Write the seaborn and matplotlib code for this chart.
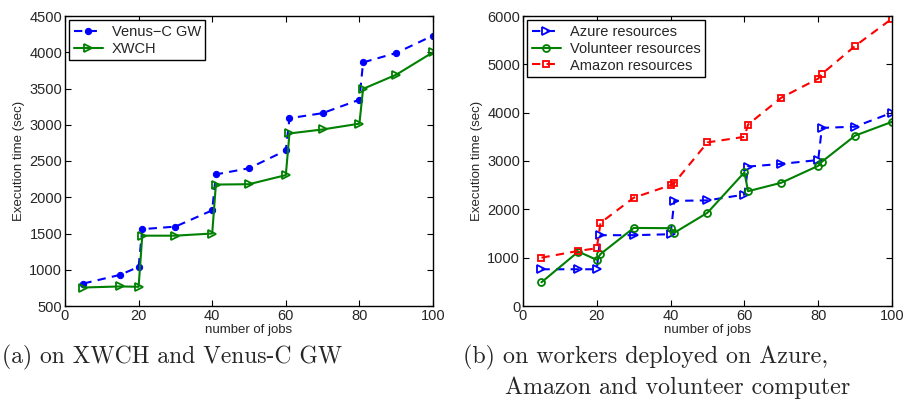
import matplotlib
matplotlib.use("Agg")
import matplotlib.pyplot as plt
import seaborn as sns
import pandas as pd

# (a) XWCH vs Venus-C GW
jobs_a = [5, 15, 20, 21, 30, 40, 41, 50, 60, 61, 70, 80, 81, 90, 100]
venus_gw = [810, 930, 1040, 1560, 1595, 1820, 2315, 2400, 2645, 3090, 3160, 3345, 3860, 3990, 4230]
xwch = [755, 770, 765, 1470, 1470, 1500, 2175, 2180, 2305, 2880, 2935, 3015, 3495, 3690, 4000]

# (b) workers on Azure / volunteer / Amazon
jobs_b = [5, 15, 20, 21, 30, 40, 41, 50, 60, 61, 70, 80, 81, 90, 100]
azure = [760, 760, 760, 1465, 1465, 1485, 2175, 2185, 2305, 2885, 2940, 3020, 3685, 3710, 4000]
volunteer = [490, 1125, 955, 1075, 1615, 1610, 1515, 1930, 2765, 2375, 2550, 2900, 2985, 3525, 3810]
amazon = [1000, 1140, 1195, 1720, 2240, 2500, 2545, 3385, 3500, 3755, 4310, 4705, 4800, 5380, 5945]

caption_a = "(a) on XWCH and Venus-C GW"
caption_b1 = "(b) on workers deployed on Azure,"
caption_b2 = "Amazon and volunteer computer"

sns.set_style("ticks")
plt.rcParams["font.family"] = ["Liberation Sans", "DejaVu Sans"]
plt.rcParams["axes.linewidth"] = 1.0
plt.rcParams["xtick.direction"] = "in"
plt.rcParams["ytick.direction"] = "in"
plt.rcParams["xtick.top"] = True
plt.rcParams["ytick.right"] = True

W, H = 904, 403
fig = plt.figure(figsize=(W / 100, H / 100), dpi=100)
fig.patch.set_facecolor("white")

ax1 = fig.add_axes([65 / W, 97 / H, 368 / W, 290 / H])
ax2 = fig.add_axes([523 / W, 97 / H, 369 / W, 290 / H])

df_a = pd.DataFrame({"jobs": jobs_a, "venus": venus_gw, "xwch": xwch})
df_b = pd.DataFrame({"jobs": jobs_b, "azure": azure, "volunteer": volunteer, "amazon": amazon})

blue, green, red = "#0000ff", "#008000", "#ff0000"
common = dict(estimator=None, sort=False, linewidth=1.5)

sns.lineplot(data=df_a, x="jobs", y="venus", ax=ax1, color=blue, linestyle=(0, (4, 3)),
             marker="o", markersize=4.5, markeredgecolor=blue, markerfacecolor=blue,
             label="Venus\u2212C GW", **common)
sns.lineplot(data=df_a, x="jobs", y="xwch", ax=ax1, color=green, linestyle="-",
             marker=">", markersize=6, markeredgecolor=green, markerfacecolor="none",
             markeredgewidth=1.3, label="XWCH", **common)

sns.lineplot(data=df_b, x="jobs", y="azure", ax=ax2, color=blue, linestyle=(0, (4, 3)),
             marker=">", markersize=6, markeredgecolor=blue, markerfacecolor="none",
             markeredgewidth=1.3, label="Azure resources", **common)
sns.lineplot(data=df_b, x="jobs", y="volunteer", ax=ax2, color=green, linestyle="-",
             marker="o", markersize=5, markeredgecolor=green, markerfacecolor="none",
             markeredgewidth=1.3, label="Volunteer resources", **common)
sns.lineplot(data=df_b, x="jobs", y="amazon", ax=ax2, color=red, linestyle=(0, (4, 3)),
             marker="s", markersize=4.5, markeredgecolor=red, markerfacecolor="none",
             markeredgewidth=1.3, label="Amazon resources", **common)

for ax, ylim, ystep in [(ax1, (500, 4500), 500), (ax2, (0, 6000), 1000)]:
    ax.set_xlim(0, 100)
    ax.set_ylim(*ylim)
    ax.set_xticks(range(0, 101, 20))
    ax.set_yticks(range(ylim[0], ylim[1] + 1, ystep))
    ax.tick_params(labelsize=10.5, length=4, width=0.8, color="black", pad=2)
    ax.set_xlabel("number of jobs", fontsize=9.5, labelpad=1)
    ax.set_ylabel("Execution time (sec)", fontsize=9.5, labelpad=3)
    for s in ax.spines.values():
        s.set_color("black")
    ax.set_facecolor("white")
    leg = ax.legend(loc="upper left", fontsize=10.5, frameon=True, fancybox=False,
                    edgecolor="black", framealpha=1, borderaxespad=0.3,
                    handlelength=2.0, borderpad=0.3, labelspacing=0.2, handletextpad=0.6)
    leg.get_frame().set_linewidth(1.0)

fig.text(2 / W, 1 - 357 / H, caption_a, fontsize=17, family="cmr10", va="center", ha="left")
fig.text(463 / W, 1 - 357 / H, caption_b1, fontsize=17.3, family="cmr10", va="center", ha="left")
fig.text(505 / W, 1 - 388 / H, caption_b2, fontsize=17.3, family="cmr10", va="center", ha="left")

fig.savefig("out.png", dpi=100)
